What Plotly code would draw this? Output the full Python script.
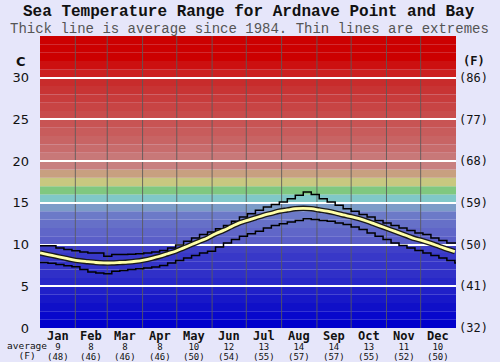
import plotly.graph_objects as go

# ---------------- data ----------------
months = ["Jan", "Feb", "Mar", "Apr", "May", "Jun", "Jul", "Aug", "Sep", "Oct", "Nov", "Dec"]
month_days = [31, 28, 31, 30, 31, 30, 31, 31, 30, 31, 30, 31]
month_avg_c = [9, 8, 8, 8, 10, 12, 13, 14, 14, 13, 11, 10]
month_avg_f = ["(48)", "(46)", "(46)", "(46)", "(50)", "(54)", "(55)", "(57)", "(57)", "(55)", "(52)", "(50)"]

days = list(range(0, 365, 7))  # day of year, weekly samples

avg_temp = [9.0, 8.8, 8.6, 8.4, 8.2, 8.05, 7.95, 7.85, 7.8, 7.8, 7.85, 7.9, 8.0, 8.15,
            8.35, 8.6, 8.9, 9.2, 9.6, 10.0, 10.4, 10.8, 11.3, 11.7, 12.15, 12.6, 12.9,
            13.2, 13.5, 13.75, 14.0, 14.15, 14.3, 14.35, 14.3, 14.15, 14.0, 13.8, 13.55,
            13.35, 13.1, 12.8, 12.45, 12.1, 11.75, 11.4, 11.05, 10.7, 10.45, 10.15, 9.8,
            9.45, 9.15]

max_temp = [9.85, 9.85, 9.6, 9.4, 9.25, 9.1, 9.0, 9.0, 8.6, 8.8, 8.8, 8.85, 8.9, 9.0,
            9.1, 9.3, 9.6, 9.95, 10.4, 10.8, 11.2, 11.5, 11.9, 12.3, 12.8, 13.3, 13.7,
            14.1, 14.5, 14.8, 15.1, 15.5, 15.9, 16.3, 16.0, 15.5, 15.1, 14.7, 14.3, 14.0,
            13.6, 13.3, 12.9, 12.6, 12.3, 12.0, 11.7, 11.4, 11.2, 10.8, 10.5, 10.2, 10.2]

min_temp = [7.85, 7.75, 7.6, 7.45, 7.35, 7.0, 6.7, 6.6, 6.5, 6.8, 6.9, 7.0, 7.1, 7.2,
            7.3, 7.5, 7.8, 8.1, 8.4, 8.7, 9.0, 9.2, 9.7, 10.2, 10.6, 11.0, 11.3, 11.6,
            12.0, 12.3, 12.5, 12.7, 12.9, 13.1, 13.0, 12.9, 12.8, 12.6, 12.4, 12.1, 11.8,
            11.4, 11.0, 10.6, 10.2, 9.9, 9.6, 9.3, 9.0, 8.7, 8.4, 8.1, 7.8]

c_ticks = [0, 5, 10, 15, 20, 25, 30]
f_ticks = ["(32)", "(41)", "(50)", "(59)", "(68)", "(77)", "(86)"]

band_colors = [
    "#0000cc", "#0808cc", "#1010c8", "#1818c8", "#2020c8", "#2828c8", "#3030c8",
    "#3434c8", "#3838c8", "#4040c8", "#5a5ec8", "#6066c8", "#6670c8", "#6c7ac8",
    "#7c9cc8", "#80c8c8", "#80c880", "#c8c880", "#c8a080", "#c88080",
    "#c87878", "#c86c6c", "#c86464", "#c85c5c", "#c85454",
    "#c84c4c", "#c84444", "#c83c3c", "#c83434", "#c82c2c",
    "#cc2020", "#cc1010", "#cc0000", "#cc0000", "#cc0000",
]

# ---------------- geometry helpers ----------------
W, H = 500, 362
L, R, T, B = 35, 38, 36, 34
pw, ph = W - L - R, H - T - B


def px(x):
    return (x - L) / pw


def py(y):
    return (H - B - y) / ph


month_starts = [0]
for d in month_days:
    month_starts.append(month_starts[-1] + d)
month_mids = [(month_starts[i] + month_starts[i + 1]) / 2 for i in range(12)]

fig = go.Figure()

fig.add_trace(go.Scatter(x=days + [365], y=max_temp + [max_temp[-1]], mode="lines",
                         line=dict(color="black", width=1.5, shape="hv"),
                         hoverinfo="skip", showlegend=False))
fig.add_trace(go.Scatter(x=days + [365], y=min_temp + [min_temp[-1]], mode="lines",
                         line=dict(color="black", width=1.5, shape="hv"),
                         hoverinfo="skip", showlegend=False))
fig.add_trace(go.Scatter(x=days, y=avg_temp, mode="lines",
                         line=dict(color="#1a1a1a", width=5.5, shape="spline"),
                         hoverinfo="skip", showlegend=False))
fig.add_trace(go.Scatter(x=days, y=avg_temp, mode="lines",
                         line=dict(color="#ffffa8", width=2.8, shape="spline"),
                         hoverinfo="skip", showlegend=False))
fig.add_trace(go.Scatter(x=[0], y=[0], yaxis="y2", mode="markers",
                         marker=dict(opacity=0), hoverinfo="skip", showlegend=False))

shapes = []
for i, col in enumerate(band_colors):
    shapes.append(dict(type="rect", xref="paper", yref="y", x0=0, x1=1, y0=i, y1=i + 1,
                       fillcolor=col, line=dict(width=0), layer="below"))
for ms in month_starts[1:-1]:
    shapes.append(dict(type="line", xref="x", yref="paper", x0=ms, x1=ms, y0=0, y1=1,
                       line=dict(color="rgba(90,90,90,0.85)", width=1), layer="below"))

mono = "DejaVu Sans Mono"
annotations = []
for i in range(12):
    txt = ("<span style='font-size:12px'><b>%s</b></span><br>"
           "<span style='font-size:9px'>%s</span><br>"
           "<span style='font-size:9px'>%s</span>"
           % (months[i], month_avg_c[i], month_avg_f[i]))
    annotations.append(dict(x=month_mids[i], y=py(328), xref="x", yref="paper",
                            yanchor="top", text=txt, showarrow=False, borderpad=0,
                            font=dict(family=mono, size=7.5, color="#111")))

annotations += [
    dict(x=px(22), y=py(338.5), xref="paper", yref="paper",
         text="<span style='font-size:9.5px'>average</span><br>"
              "<span style='font-size:9.5px'>(F)</span>",
         showarrow=False, borderpad=0,
         font=dict(family=mono, size=7.5, color="#111"), yanchor="top", xanchor="center"),
    dict(x=px(15), y=py(61), xref="paper", yref="paper", text="<b>C</b>",
         showarrow=False, font=dict(family="DejaVu Sans", size=13, color="#111"),
         yanchor="middle", xanchor="center"),
    dict(x=px(480), y=py(61), xref="paper", yref="paper", text="<b>(F)</b>",
         showarrow=False, font=dict(family=mono, size=12, color="#111"),
         yanchor="middle", xanchor="center"),
    dict(x=px(250), y=py(12), xref="paper", yref="paper", yanchor="middle", xanchor="center",
         text="<b>Sea Temperature Range for Ardnave Point and Bay</b>", showarrow=False,
         borderpad=0, font=dict(family="Liberation Mono", size=16, color="#111")),
    dict(x=px(250), y=py(29.5), xref="paper", yref="paper", yanchor="middle", xanchor="center",
         text="Thick line is average since 1984. Thin lines are extremes", borderpad=0,
         showarrow=False, font=dict(family="Liberation Mono", size=14, color="#555")),
]

fig.update_layout(
    width=W, height=H,
    margin=dict(l=L, r=R, t=T, b=B, pad=0),
    paper_bgcolor="#e6e6fa",
    plot_bgcolor="#e6e6fa",
    shapes=shapes,
    annotations=annotations,
    xaxis=dict(range=[0, 365], showgrid=False, zeroline=False, showticklabels=False,
               ticks="", fixedrange=True),
    yaxis=dict(range=[0, 35], tickvals=c_ticks, showgrid=True, gridcolor="white",
               gridwidth=2, zeroline=False, ticks="", ticklabelstandoff=10,
               tickfont=dict(family="DejaVu Sans", size=13, color="#111")),
    yaxis2=dict(range=[0, 35], overlaying="y", side="right", tickvals=c_ticks,
                ticktext=f_ticks, showgrid=False, zeroline=False, ticks="",
                ticklabelstandoff=2,
                tickfont=dict(family=mono, size=12, color="#111")),
    showlegend=False,
    hovermode=False,
)

fig.write_html("out.html", config={"displayModeBar": False, "staticPlot": True},
               post_script="document.body.style.margin='0';document.body.style.background='#e6e6fa';")
